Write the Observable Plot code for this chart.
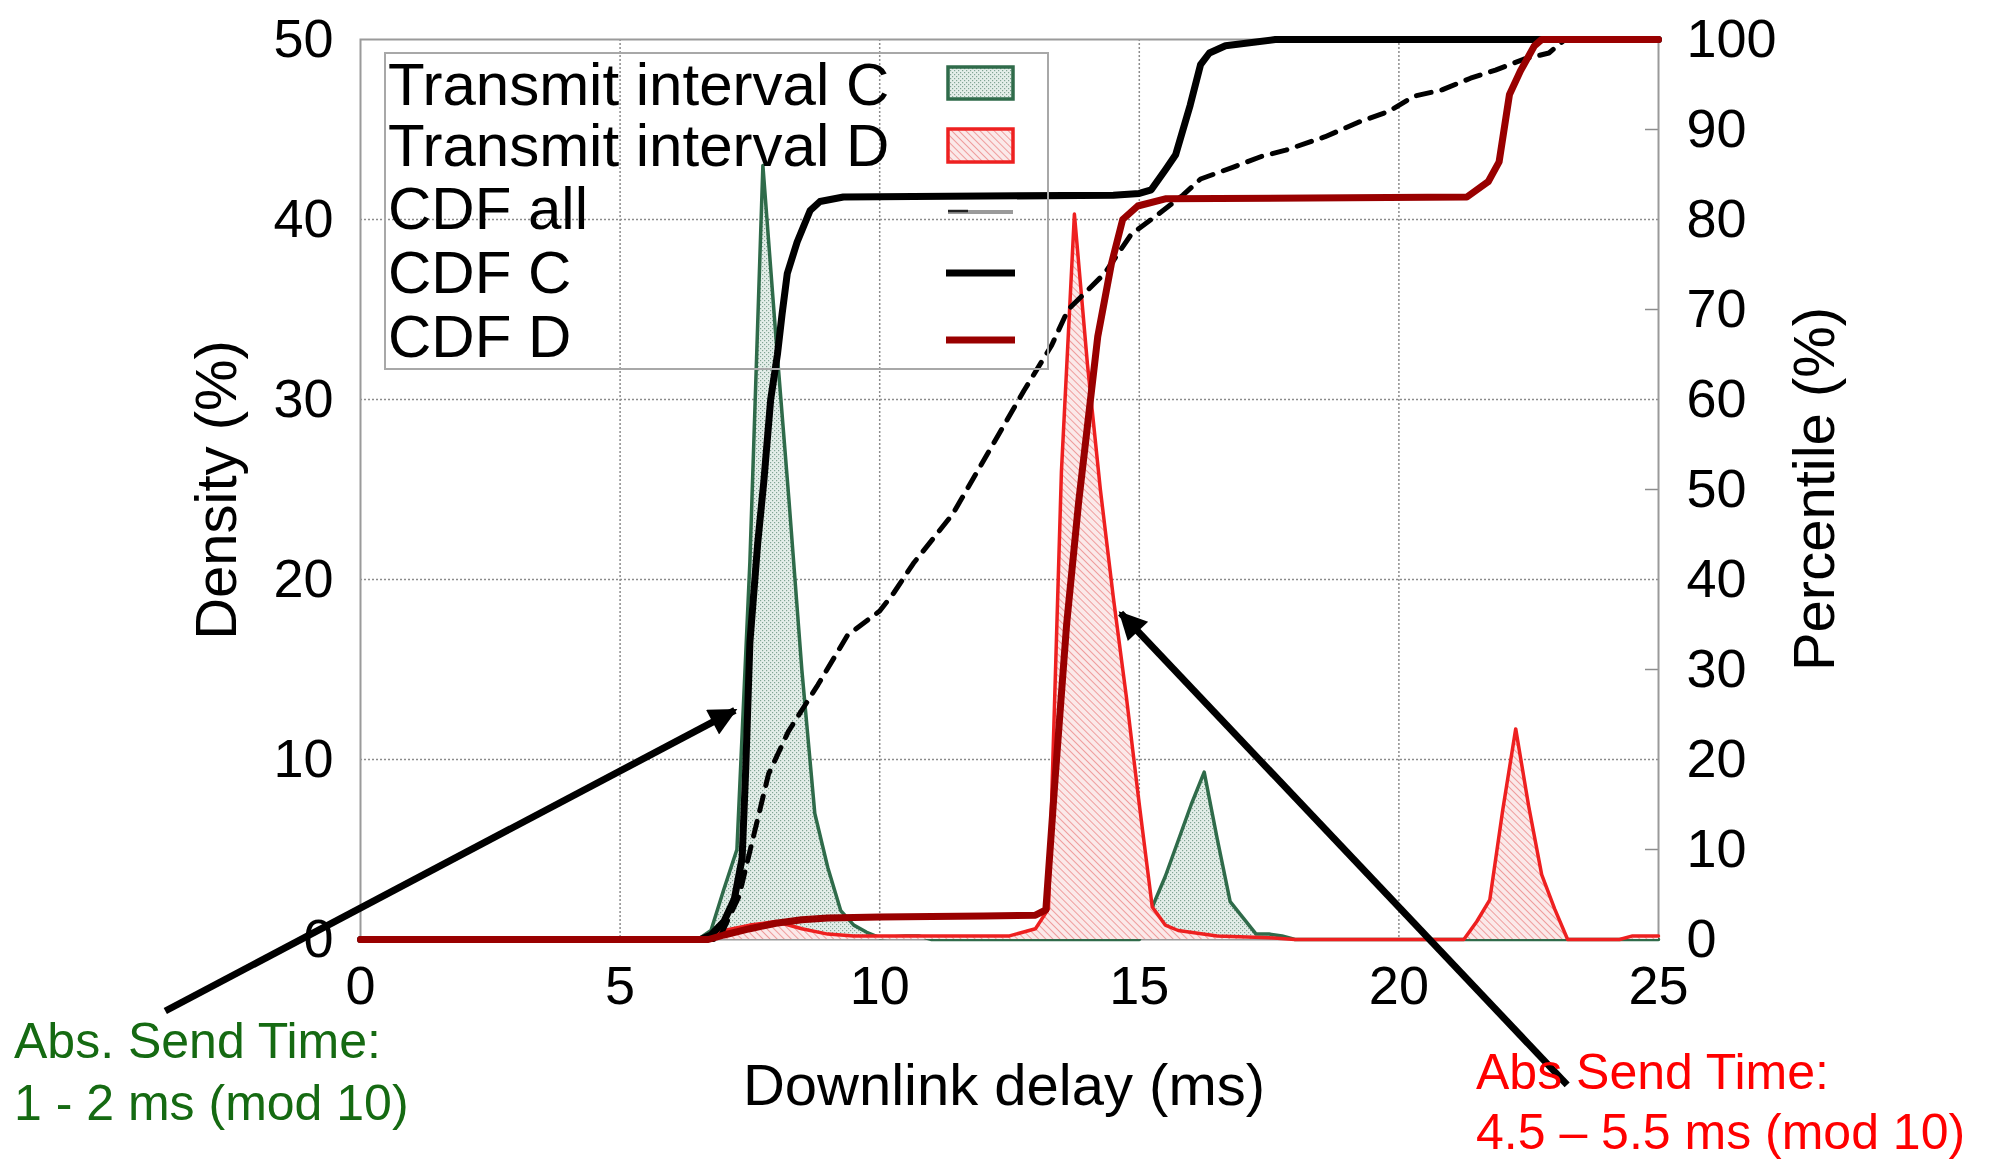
<!DOCTYPE html>
<html><head><meta charset="utf-8">
<script src="https://cdn.jsdelivr.net/npm/d3@7"></script>
<script src="https://cdn.jsdelivr.net/npm/@observablehq/plot@0.6"></script>
<style>
html,body{margin:0;padding:0;background:#fff;}
#wrap{position:relative;width:1995px;height:1160px;}
</style></head><body><div id="wrap"></div>
<script>
// ---------- data ----------
const densityC_x = [0, 6.5, 6.75, 7.0, 7.25, 7.5, 7.75, 8.0, 8.25, 8.5, 8.75, 9.0, 9.25, 9.5, 9.75, 10.0, 10.5, 10.75, 11.0, 15.0, 15.25, 15.5, 15.75, 16.0, 16.25, 16.5, 16.75, 17.0, 17.25, 17.5, 17.75, 18.0, 25];
const densityC_y = [0, 0, 0.5, 2.8, 5, 21, 43, 33.5, 24.5, 15, 7, 4, 1.6, 0.8, 0.4, 0.1, 0.2, 0.2, 0, 0, 1.8, 3.5, 5.5, 7.5, 9.3, 5.6, 2.1, 1.2, 0.3, 0.3, 0.2, 0, 0];

const densityD_x = [0, 6.5, 6.75, 7.0, 7.5, 8.0, 8.5, 9.0, 9.5, 12.5, 13.0, 13.25, 13.5, 13.75, 14.0, 14.25, 14.5, 14.75, 15.0, 15.25, 15.5, 15.75, 16.5, 17.5, 18.0, 21.25, 21.5, 21.75, 22.0, 22.25, 22.5, 22.75, 23.0, 23.25, 24.25, 24.5, 25];
const densityD_y = [0, 0, 0.2, 0.5, 0.8, 1.0, 0.6, 0.3, 0.2, 0.2, 0.6, 1.7, 26, 40.3, 32, 25, 19, 13.5, 7.5, 1.8, 0.8, 0.5, 0.2, 0.1, 0, 0, 1, 2.2, 7.2, 11.7, 7.4, 3.6, 1.7, 0, 0, 0.2, 0.2];

const cdfAll_x = [0, 6.9, 7.29, 7.86, 8.24, 8.81, 9.38, 10.0, 10.27, 10.65, 11.41, 12.78, 13.31, 13.63, 14.33, 14.85, 15.3, 15.84, 16.18, 16.8, 17.35, 17.82, 18.58, 19.26, 19.8, 20.29, 20.83, 21.38, 21.86, 22.4, 22.89, 23.2];
const cdfAll_p = [0, 0, 4.8, 18.4, 23.1, 28.3, 33.8, 36.5, 38.5, 41.8, 47.3, 61, 66, 70, 74, 78.4, 80.3, 82.7, 84.5, 85.8, 87, 87.7, 89.2, 90.9, 92, 93.7, 94.4, 95.7, 96.6, 97.8, 98.5, 100];

const cdfC_x = [0, 6.55, 6.75, 7.0, 7.2, 7.35, 7.42, 7.5, 7.65, 7.77, 7.9, 8.03, 8.12, 8.22, 8.41, 8.66, 8.85, 9.3, 12, 14.5, 15.0, 15.23, 15.5, 15.7, 15.98, 16.18, 16.35, 16.66, 17.62, 25];
const cdfC_p = [0, 0, 0.5, 2, 4.5, 9, 19, 33, 44, 51, 60, 65, 69.5, 74, 77.5, 81, 82, 82.5, 82.6, 82.7, 82.9, 83.3, 85.5, 87.2, 92.7, 97.2, 98.5, 99.3, 100, 100];

const cdfD_x = [0, 6.7, 7.0, 7.5, 8.0, 8.5, 9.0, 10, 12, 13.0, 13.2, 13.38, 13.6, 13.83, 14.0, 14.2, 14.46, 14.68, 14.97, 15.5, 21.31, 21.72, 21.93, 22.13, 22.34, 22.61, 22.75, 25];
const cdfD_p = [0, 0, 0.5, 1.2, 1.8, 2.2, 2.4, 2.5, 2.6, 2.7, 3.3, 18, 35, 48.5, 57, 67, 75, 80, 81.5, 82.3, 82.5, 84.2, 86.4, 93.9, 96.5, 99.3, 100, 100];

const xTicks = [0, 5, 10, 15, 20, 25];
const xGrid = [5, 10, 15, 20];
const densityTicks = [0, 10, 20, 30, 40, 50];
const densityGrid = [10, 20, 30, 40];
const percentileTicks = [0, 10, 20, 30, 40, 50, 60, 70, 80, 90, 100];
const percentileMinor = [10, 30, 50, 70, 90];

const legendLabels = ["Transmit interval C", "Transmit interval D", "CDF all", "CDF C", "CDF D"];
const noteC = ["Abs. Send Time:", "1 - 2 ms (mod 10)"];
const noteD = ["Abs Send Time:", "4.5 \u2013 5.5 ms (mod 10)"];
// arrows in data units: [x1, y1 (density), x2, y2]
const arrowC = [-3.75, -4.0, 7.22, 12.7];
const arrowD = [23.25, -8.1, 14.65, 18.1];

// ---------- tables ----------
const rows = (xs, ys) => xs.map((x, i) => ({x, y: ys[i]}));
const densC = rows(densityC_x, densityC_y);
const densD = rows(densityD_x, densityD_y);
const cAll = rows(cdfAll_x, cdfAll_p);
const cC = rows(cdfC_x, cdfC_p);
const cD = rows(cdfD_x, cdfD_p);
const toDens = d => d.y / 2; // percentile drawn on the 0–50 density scale

const FONT = '"Liberation Sans", Arial, Helvetica, sans-serif';
const GREEN = "#2f6b4a", RED = "#ee2020", DARKRED = "#990000";

const plot = Plot.plot({
  width: 1995, height: 1160,
  marginLeft: 360, marginRight: 337, marginTop: 39, marginBottom: 221,
  x: {domain: [0, 25]},
  y: {domain: [0, 50]},
  style: {fontFamily: FONT, background: "#fff", color: "#000", overflow: "visible"},
  marks: [
    Plot.gridX({ticks: xGrid, stroke: "#8c8c8c", strokeOpacity: 1, strokeWidth: 1.5, strokeDasharray: "2,2"}),
    Plot.gridY({ticks: densityGrid, stroke: "#8c8c8c", strokeOpacity: 1, strokeWidth: 1.5, strokeDasharray: "2,2"}),
    Plot.ruleY(percentileMinor.map(p => p / 2), {x1: 24.75, x2: 25, stroke: "#8c8c8c", strokeWidth: 1.5}),
    Plot.frame({stroke: "#9a9a9a", strokeWidth: 2}),
    Plot.axisX({ticks: xTicks, tickSize: 0, tickPadding: 26, fontSize: 54, label: null}),
    Plot.axisY({ticks: densityTicks, anchor: "left", tickSize: 0, tickPadding: 27, fontSize: 54, label: null}),
    Plot.axisY({ticks: percentileTicks.map(p => p / 2), anchor: "right", tickSize: 0, tickPadding: 28, fontSize: 54, label: null, tickFormat: d => String(d * 2)}),
    Plot.areaY(densC, {x: "x", y: "y", fill: "url(#patC)"}),
    Plot.line(densC, {x: "x", y: "y", stroke: GREEN, strokeWidth: 3.5}),
    Plot.areaY(densD, {x: "x", y: "y", fill: "url(#patD)"}),
    Plot.line(densD, {x: "x", y: "y", stroke: RED, strokeWidth: 3.5}),
    Plot.line(cAll, {x: "x", y: toDens, stroke: "#000", strokeWidth: 5, strokeDasharray: "15,11"}),
    Plot.line(cC, {x: "x", y: toDens, stroke: "#000", strokeWidth: 7}),
    Plot.line(cD, {x: "x", y: toDens, stroke: DARKRED, strokeWidth: 7})
  ]
});
document.getElementById("wrap").appendChild(plot);

const svg = d3.select(plot);
const sx = plot.scale("x"), sy = plot.scale("y");

// patterns
const defs = svg.insert("defs", ":first-child");
const pc = defs.append("pattern").attr("id", "patC").attr("patternUnits", "userSpaceOnUse").attr("width", 4).attr("height", 4);
pc.append("rect").attr("width", 4).attr("height", 4).attr("fill", "#e4eee9");
pc.append("rect").attr("x", 0).attr("y", 0).attr("width", 1.2).attr("height", 1.2).attr("fill", "#82a594");
pc.append("rect").attr("x", 2).attr("y", 2).attr("width", 1.2).attr("height", 1.2).attr("fill", "#82a594");
const pd = defs.append("pattern").attr("id", "patD").attr("patternUnits", "userSpaceOnUse").attr("width", 5).attr("height", 5).attr("patternTransform", "rotate(-45)");
pd.append("rect").attr("width", 5).attr("height", 5).attr("fill", "#fbe9e9");
pd.append("line").attr("x1", 0).attr("y1", 0).attr("x2", 0).attr("y2", 5).attr("stroke", "#eb8484").attr("stroke-width", 1.5);
const mk = defs.append("marker").attr("id", "head").attr("viewBox", "0 0 10 10").attr("refX", 9).attr("refY", 5)
  .attr("markerUnits", "userSpaceOnUse").attr("markerWidth", 34).attr("markerHeight", 28).attr("orient", "auto");
mk.append("path").attr("d", "M0,0 L10,5 L0,10 Z").attr("fill", "#000");

// axis titles
const tg = svg.append("g").attr("font-family", FONT).attr("fill", "#000").attr("text-anchor", "middle");
tg.append("text").attr("transform", "translate(216,490) rotate(-90)").attr("dy", "0.35em").attr("font-size", 58).text("Density (%)");
tg.append("text").attr("transform", "translate(1814,489) rotate(-90)").attr("dy", "0.35em").attr("font-size", 58).text("Percentile (%)");
tg.append("text").attr("x", 1004).attr("y", 1085).attr("dy", "0.35em").attr("font-size", 58).text("Downlink delay (ms)");

// legend
const lg = svg.append("g").attr("font-family", FONT).attr("text-anchor", "start");
lg.append("rect").attr("x", 385).attr("y", 53).attr("width", 663).attr("height", 316).attr("fill", "none").attr("stroke", "#a8a8a8").attr("stroke-width", 2);
const rowY = [83, 144, 207, 271, 335];
legendLabels.forEach((t, i) => lg.append("text").attr("x", 388).attr("y", rowY[i]).attr("dy", "0.36em").attr("font-size", 60).attr("fill", "#000").text(t));
lg.append("rect").attr("x", 948).attr("y", 67).attr("width", 65).attr("height", 32).attr("fill", "url(#patC)").attr("stroke", GREEN).attr("stroke-width", 3.5);
lg.append("rect").attr("x", 948).attr("y", 129).attr("width", 65).attr("height", 33).attr("fill", "url(#patD)").attr("stroke", RED).attr("stroke-width", 3.5);
lg.append("line").attr("x1", 948).attr("x2", 1013).attr("y1", 212).attr("y2", 212).attr("stroke", "#9a9a9a").attr("stroke-width", 4);
lg.append("line").attr("x1", 948).attr("x2", 968).attr("y1", 211).attr("y2", 211).attr("stroke", "#222").attr("stroke-width", 2.5);
lg.append("line").attr("x1", 946).attr("x2", 1015).attr("y1", 273).attr("y2", 273).attr("stroke", "#000").attr("stroke-width", 7);
lg.append("line").attr("x1", 946).attr("x2", 1015).attr("y1", 340).attr("y2", 340).attr("stroke", DARKRED).attr("stroke-width", 7);

// arrows (positioned through the plot's scales)
[arrowC, arrowD].forEach(a => {
  svg.append("line")
    .attr("x1", sx.apply(a[0])).attr("y1", sy.apply(a[1]))
    .attr("x2", sx.apply(a[2])).attr("y2", sy.apply(a[3]))
    .attr("stroke", "#000").attr("stroke-width", 7).attr("marker-end", "url(#head)");
});

// notes
const ng = svg.append("g").attr("font-family", FONT).attr("font-size", 50).attr("text-anchor", "start");
ng.append("text").attr("x", 14).attr("y", 1058).attr("fill", "#156a12").text(noteC[0]);
ng.append("text").attr("x", 14).attr("y", 1120).attr("fill", "#156a12").text(noteC[1]);
ng.append("text").attr("x", 1476).attr("y", 1089).attr("fill", "#ff0000").text(noteD[0]);
ng.append("text").attr("x", 1476).attr("y", 1149).attr("fill", "#ff0000").text(noteD[1]);
</script>
</body></html>
